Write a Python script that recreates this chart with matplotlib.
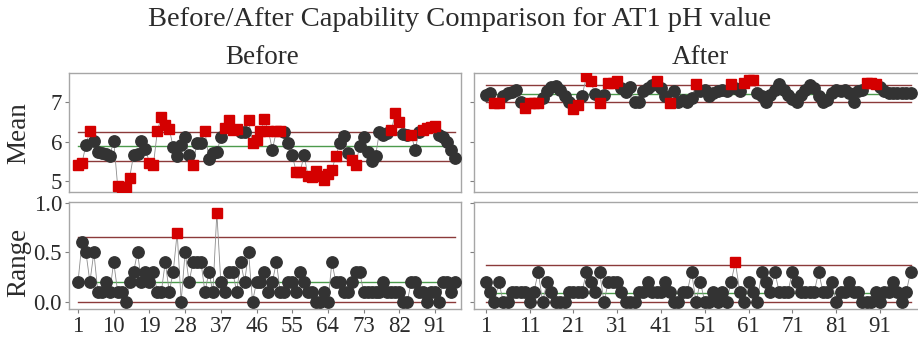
import matplotlib
matplotlib.use("Agg")
import matplotlib.pyplot as plt
import numpy as np

plt.rcParams['font.family'] = ['Liberation Serif', 'DejaVu Serif']

# ---- subgroup means / ranges, before the change ----
before_mean = [5.40, 5.46, 5.92, 6.28, 6.02, 5.74, 5.72, 5.70, 5.63, 6.03,
               4.87, 4.84, 4.85, 5.08, 5.66, 5.69, 6.03, 5.82, 5.47, 5.41,
               6.27, 6.64, 6.42, 6.33, 5.86, 5.63, 5.93, 6.13, 5.66, 5.42,
               5.98, 5.98, 6.27, 5.57, 5.72, 5.74, 6.11, 6.34, 6.56, 6.29,
               6.32, 6.25, 6.25, 6.54, 5.98, 6.04, 6.27, 6.57, 6.27, 5.80,
               6.27, 6.27, 6.26, 5.96, 5.66, 5.24, 5.24, 5.66, 5.12, 5.10,
               5.26, 5.12, 5.02, 5.19, 5.29, 5.63, 5.97, 6.14, 5.72, 5.53,
               5.41, 5.89, 6.11, 5.74, 5.51, 5.63, 6.26, 6.17, 6.22, 6.30,
               6.72, 6.49, 6.20, 6.17, 6.17, 5.80, 6.26, 6.30, 6.34, 6.38,
               6.40, 6.17, 6.12, 6.00, 5.79, 5.58]
before_mean_flags = [1, 2, 4, 11, 12, 13, 14, 19, 20, 21, 22, 23, 24, 30, 33,
                     38, 39, 40, 41, 44, 45, 46, 47, 48, 49, 51, 52, 56, 57,
                     59, 60, 61, 62, 63, 64, 65, 66, 70, 71, 80, 81, 82, 85,
                     88, 89, 90, 91]

before_range = [0.2, 0.6, 0.5, 0.2, 0.5, 0.1, 0.1, 0.2, 0.1, 0.4,
                0.1, 0.1, 0.0, 0.2, 0.3, 0.5, 0.2, 0.3, 0.2, 0.3,
                0.1, 0.1, 0.4, 0.1, 0.3, 0.7, 0.0, 0.5, 0.2, 0.4,
                0.4, 0.4, 0.1, 0.3, 0.1, 0.9, 0.2, 0.1, 0.3, 0.3,
                0.1, 0.4, 0.2, 0.5, 0.0, 0.2, 0.2, 0.3, 0.1, 0.2,
                0.4, 0.1, 0.1, 0.2, 0.2, 0.1, 0.3, 0.2, 0.1, 0.1,
                0.0, 0.0, 0.1, 0.0, 0.4, 0.2, 0.2, 0.1, 0.1, 0.2,
                0.3, 0.3, 0.1, 0.1, 0.1, 0.1, 0.1, 0.2, 0.1, 0.1,
                0.1, 0.1, 0.0, 0.0, 0.2, 0.2, 0.1, 0.1, 0.0, 0.1,
                0.1, 0.0, 0.2, 0.2, 0.1, 0.2]
before_range_flags = [26, 36]

# ---- subgroup means / ranges, after the change ----
after_mean = [7.19, 7.23, 6.99, 6.99, 7.15, 7.23, 7.27, 7.32, 7.02, 6.85,
              6.98, 6.98, 6.99, 7.10, 7.28, 7.40, 7.42, 7.32, 7.15, 7.02,
              6.82, 6.93, 7.16, 7.66, 7.53, 7.20, 6.99, 7.19, 7.48, 7.48,
              7.53, 7.36, 7.27, 7.40, 7.02, 7.02, 7.28, 7.36, 7.45, 7.53,
              7.36, 7.15, 6.99, 7.30, 7.02, 7.06, 7.02, 7.11, 7.47, 7.28,
              7.32, 7.15, 7.23, 7.28, 7.32, 7.30, 7.47, 7.36, 7.30, 7.49,
              7.57, 7.57, 7.23, 7.15, 7.02, 7.19, 7.32, 7.46, 7.32, 7.19,
              7.08, 7.02, 7.19, 7.32, 7.45, 7.36, 7.15, 7.02, 7.06, 7.23,
              7.32, 7.30, 7.32, 7.25, 7.02, 7.28, 7.32, 7.49, 7.49, 7.47,
              7.40, 7.30, 7.25, 7.23, 7.23, 7.23, 7.23, 7.23]
after_mean_flags = [3, 4, 10, 11, 12, 13, 21, 22, 24, 25, 27, 29, 30, 31, 40,
                    43, 49, 57, 60, 61, 62, 88, 89, 90]

after_range = [0.2, 0.1, 0.0, 0.2, 0.0, 0.0, 0.1, 0.1, 0.1, 0.1,
               0.0, 0.1, 0.3, 0.0, 0.2, 0.1, 0.0, 0.0, 0.0, 0.1,
               0.1, 0.1, 0.1, 0.3, 0.2, 0.1, 0.3, 0.0, 0.2, 0.2,
               0.2, 0.1, 0.0, 0.0, 0.0, 0.1, 0.1, 0.2, 0.1, 0.1,
               0.1, 0.2, 0.1, 0.0, 0.0, 0.1, 0.1, 0.3, 0.0, 0.2,
               0.0, 0.0, 0.1, 0.0, 0.1, 0.0, 0.2, 0.4, 0.1, 0.0,
               0.2, 0.1, 0.0, 0.3, 0.2, 0.1, 0.3, 0.1, 0.1, 0.1,
               0.3, 0.2, 0.1, 0.1, 0.1, 0.1, 0.3, 0.1, 0.1, 0.2,
               0.0, 0.1, 0.1, 0.2, 0.1, 0.1, 0.0, 0.0, 0.0, 0.1,
               0.0, 0.1, 0.1, 0.2, 0.1, 0.0, 0.1, 0.3]
after_range_flags = [58]

# control limits: (LCL, center, UCL)
before_mean_limits = (5.52, 5.89, 6.26)
after_mean_limits = (7.00, 7.22, 7.45)
before_range_limits = (0.0, 0.20, 0.66)
after_range_limits = (0.0, 0.09, 0.37)

before_ticks = [1, 10, 19, 28, 37, 46, 55, 64, 73, 82, 91]
after_ticks = [1, 11, 21, 31, 41, 51, 61, 71, 81, 91]

W, H = 918, 337
fig = plt.figure(figsize=(W / 100, H / 100), dpi=100)
fig.patch.set_facecolor('white')

TXT = '#2b2b2b'
DOT = '#333333'
RED = '#d40000'
LIMIT = '#8b3a3a'
CENTER = '#4c9a4c'
LINK = '#8c8c8c'
BORDER = '#a6a6a6'


def px_axes(left, top, right, bottom):
    return fig.add_axes([left / W, 1 - bottom / H, (right - left) / W, (bottom - top) / H])


def draw(ax, values, flags, limits, xlim, ylim, xticks, yticks, ylabels):
    values = np.asarray(values, dtype=float)
    x = np.arange(1, len(values) + 1)
    flagged = np.isin(x, flags)
    lcl, cl, ucl = limits
    ax.plot(x, values, color=LINK, lw=0.6, zorder=2)
    for lvl, col in ((ucl, LIMIT), (cl, CENTER), (lcl, LIMIT)):
        ax.plot([x[0], x[-1]], [lvl, lvl], color=col, lw=1.0, zorder=1)
    ax.plot(x[~flagged], values[~flagged], 'o', ms=8.2, color=DOT, mec=DOT, zorder=3)
    ax.plot(x[flagged], values[flagged], 's', ms=7.8, color=RED, mec=RED, zorder=4)
    ax.set_xlim(*xlim)
    ax.set_ylim(*ylim)
    ax.set_xticks(xticks)
    ax.set_yticks(yticks)
    if ylabels is None:
        ax.set_yticklabels([])
        ax.tick_params(axis='y', length=0)
    else:
        ax.set_yticklabels(ylabels)
    for s in ax.spines.values():
        s.set_color(BORDER)
        s.set_linewidth(1.0)
    ax.tick_params(colors='#7f7f7f', labelcolor=TXT, labelsize=16.5, length=3, width=0.8, pad=2)


mean_ylim = (4.725, 7.745)
range_ylim = (-0.074, 1.01)
before_xlim = (-1.27, 97.55)
after_xlim = (-1.67, 100.6)

ax1 = px_axes(69, 73, 461, 192)
draw(ax1, before_mean, before_mean_flags, before_mean_limits, before_xlim, mean_ylim,
     before_ticks, [5, 6, 7], ['5', '6', '7'])
ax1.set_xticklabels([])
ax1.tick_params(axis='x', length=0)

ax2 = px_axes(474, 73, 922, 192)
draw(ax2, after_mean, after_mean_flags, after_mean_limits, after_xlim, mean_ylim,
     after_ticks, [5, 6, 7], None)
ax2.set_xticklabels([])
ax2.tick_params(axis='x', length=0)

ax3 = px_axes(69, 202, 461, 309)
draw(ax3, before_range, before_range_flags, before_range_limits, before_xlim, range_ylim,
     before_ticks, [0.0, 0.5, 1.0], ['0.0', '0.5', '1.0'])

ax4 = px_axes(474, 202, 922, 309)
draw(ax4, after_range, after_range_flags, after_range_limits, after_xlim, range_ylim,
     after_ticks, [0.0, 0.5, 1.0], None)

fig.text(460 / W, 1 - 20 / H, 'Before/After Capability Comparison for AT1 pH value',
         ha='center', va='center', fontsize=20.5, color=TXT)
fig.text(262 / W, 1 - 58 / H, 'Before', ha='center', va='center', fontsize=19.5, color=TXT)
fig.text(700 / W, 1 - 58 / H, 'After', ha='center', va='center', fontsize=19.5, color=TXT)
fig.text(19 / W, 1 - 133 / H, 'Mean', ha='center', va='center', rotation=90,
         fontsize=19.5, color=TXT)
fig.text(19 / W, 1 - 262 / H, 'Range', ha='center', va='center', rotation=90,
         fontsize=19.5, color=TXT)

fig.savefig('out.png', dpi=100)
